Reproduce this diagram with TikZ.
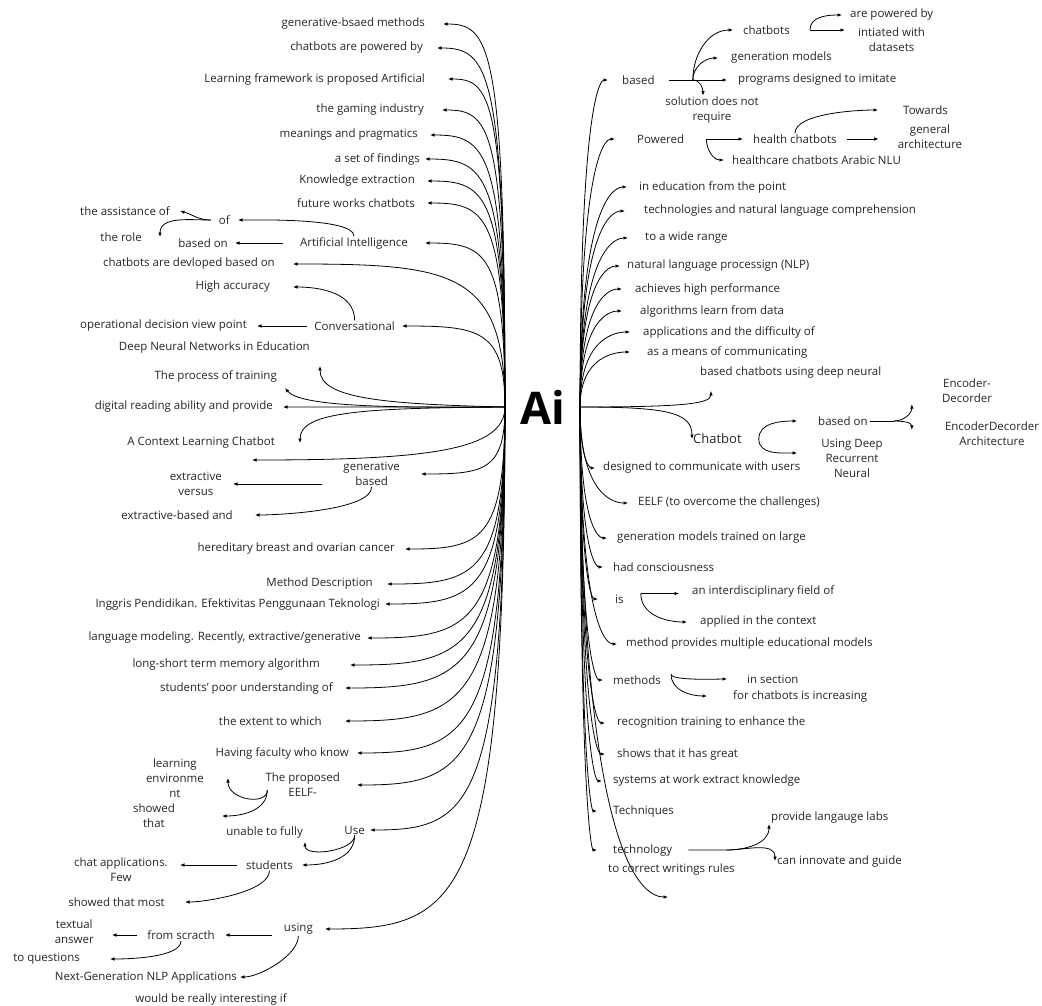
\documentclass[tikz,border=0pt]{standalone}
\usepackage{fontspec}
\setmainfont{Open Sans}
\usetikzlibrary{arrows.meta,calc}

\tikzset{
  leaf/.style={text=black!85,font=\fontsize{11.5}{15}\selectfont,align=center,inner xsep=2pt,inner ysep=1pt},
  link/.style={->,line width=0.8pt},
}

\begin{document}
\begin{tikzpicture}[x=1pt,y=-1pt,>={Latex[length=4.5pt,width=3.6pt]}]
\useasboundingbox[fill=white] (0,0) rectangle (1042,1005);

\node[inner xsep=15pt,font=\fontsize{45}{50}\selectfont\bfseries] (ai) at (542.5,407) {Ai};

% left side
\foreach \nm/\gp/\yy/\xt/\tx in {
  gbm/18/24/443/{generative-bsaed methods},
  cpb/14/48/437/{chatbots are powered by},
  lfp/23/79/448/{Learning framework is proposed Artificial},
  gam/18/110/442/{the gaming industry},
  mnp/12/135/430/{meanings and pragmatics},
  sof/5/159/425/{a set of findings},
  kne/12/181/427/{Knowledge extraction},
  fwc/12/203/427/{future works chatbots},
  ain/17/243/425/{Artificial Intelligence},
  cdb/18/264/293/{chatbots are devloped based on},
  con/7/326/402/{Conversational},
  drp/10/407/283/{digital reading ability and provide},
  gen/21/474/421/{generative\\based},
  hbc/10/549/405/{hereditary breast and ovarian cancer},
  mde/14/584/387/{Method Description},
  ipe/5/604/385/{Inggris Pendidikan. Efektivitas Penggunaan Teknologi},
  lmr/6/638/367/{language modeling. Recently, extractive/generative},
  lst/30/665/350/{long-short term memory algorithm},
  spu/12/688/345/{students' poor understanding of},
  ext/23/721/345/{the extent to which},
  hfw/8/753/357/{Having faculty who know},
  tpe/17/785/357/{The proposed\\EELF-},
  use/5/830/370/{Use},
  usg/12/929/325/{using}}{
  \node[leaf,anchor=east,inner xsep=\gp pt] (\nm) at (\xt,\yy) {\tx};
  \draw[link] (ai.west) .. controls (505,{\yy+0.05*(408-\yy)}) and ({\xt+0.75*(505-\xt)},\yy) .. (\nm.east);
}

\node[leaf,anchor=east] (dnn) at (312,348) {Deep Neural Networks in Education};
\draw[link] (ai.west) .. controls (380,404) and (320,398) .. ([shift={(8pt,-11pt)}]dnn.south east);
\node[leaf,anchor=east] (tpt) at (279,376) {The process of training};
\draw[link] (ai.west) .. controls (380,408) and (300,406) .. ([shift={(6pt,-5pt)}]tpt.south east);
\node[leaf,anchor=east,inner xsep=25pt] (clc) at (300,443) {A Context Learning Chatbot};
\draw[link] (ai.west) .. controls (360,408) and (300,412) .. (clc.east);
\coordinate (lfree) at (252,460);
\draw[link] (ai.west) .. controls (505,450) and (430,460) .. (lfree);

\node[leaf,anchor=east,inner xsep=7pt] (bon) at (235,243) {based on};
\draw[link] (ain.west) -- (bon.east);
\node[leaf,anchor=east,inner xsep=8pt] (ofn) at (238,220) {of};
\draw[link] (ain.north) to[out=90,in=0,looseness=0.4] (ofn.east);
\node[leaf,anchor=east,inner xsep=10pt] (tas) at (180,211) {the assistance of};
\draw[link] (ofn.west) to[out=180,in=-15] (tas.east);
\node[leaf,anchor=east,inner xsep=18pt] (tro) at (160,237) {the role};
\draw[link] (ofn.west) to[out=180,in=90] (tro.east);

\node[leaf,anchor=east,inner xsep=23pt] (hac) at (293,287) {High accuracy};
\draw[link] (con.north) to[out=90,in=0] (hac.east);
\node[leaf,anchor=east,inner xsep=10pt] (odv) at (257,326) {operational decision view point};
\draw[link] (con.west) -- (odv.east);

\node[leaf,anchor=east,inner xsep=11pt] (evs) at (233,484) {extractive\\versus};
\draw[link] (evs.east -| gen.west) -- (evs.east);
\node[leaf,anchor=east,inner xsep=22pt] (eba) at (255,515) {extractive-based and};
\draw[link] (gen.south) to[out=-90,in=0,looseness=0.5] (eba.east);

\coordinate (pfk) at ([shift={(19pt,-5pt)}]tpe.west);
\node[leaf,anchor=east,inner xsep=24pt] (len) at (228,778) {learning\\environme\\nt};
\draw[link] (pfk) .. controls +(0,16) and +(0,22) .. (len.east);
\node[leaf,anchor=east,inner xsep=47pt] (sht) at (222,816) {showed\\that};
\draw[link] (pfk) to[out=-90,in=0] (sht.east);

\node[leaf,anchor=east,inner ysep=4pt] (utf) at (305,832) {unable to fully};
\draw[link] (use.south) to[out=-90,in=-90,looseness=0.8] (utf.south east);
\node[leaf,anchor=east,inner xsep=9pt] (stu) at (302,865) {students};
\draw[link] (use.south) to[out=-90,in=0] (stu.east);
\node[leaf,anchor=east,inner xsep=12pt] (caf) at (180,870) {chat applications.\\Few};
\draw[link] (stu.west) -- (stu.west -| caf.east);
\node[leaf,anchor=east,inner xsep=20pt] (stm) at (185,902) {showed that most};
\draw[link] (stu.south) to[out=-90,in=0,looseness=0.6] (stm.east);

\node[leaf,anchor=east,inner xsep=10pt] (frs) at (225,935) {from scracth};
\draw[link] (frs.east -| usg.west) -- (frs.east);
\node[leaf,anchor=east,inner xsep=3pt] (ngn) at (240,977) {Next-Generation NLP Applications};
\draw[link] (usg.south) to[out=-90,in=0,looseness=0.7] (ngn.east);
\node[leaf,anchor=east,inner xsep=18pt] (tan) at (112,932) {textual\\answer};
\draw[link] (frs.west) -- (frs.west -| tan.east);
\node[leaf,anchor=east,inner xsep=30pt] (tqs) at (110,959) {to questions};
\draw[link] (frs.south) to[out=-90,in=0,looseness=0.6] (tqs.east);
\node[leaf] (wbi) at (211,999) {would be really interesting if};

% right side
\foreach \nm/\gp/\yy/\xt/\tx in {
  bas/14/80/608/{based},
  pow/22/139/615/{Powered},
  ied/12/187/627/{in education from the point},
  tnl/19/211/625/{technologies and natural language comprehension},
  twr/17/238/628/{to a wide range},
  nlp/7/266/620/{natural language processign (NLP)},
  ahp/13/289/622/{achieves high performance},
  alg/18/311/622/{algorithms learn from data},
  adf/13/332/630/{applications and the difficulty of},
  amc/17/352/630/{as a means of communicating},
  dcu/8/468/595/{designed to communicate with users},
  eel/10/503/628/{EELF (to overcome the challenges)},
  gmt/10/538/607/{generation models trained on large},
  hco/10/567/603/{had consciousness},
  isn/17/599/598/{is},
  mpm/9/644/617/{method provides multiple educational models},
  mth/10/680/603/{methods},
  rte/12/723/605/{recognition training to enhance the},
  stg/12/754/605/{shows that it has great},
  swe/11/781/602/{systems at work extract knowledge},
  tec/16/811/597/{Techniques},
  tgy/16/850/597/{technology}}{
  \node[leaf,anchor=west,inner xsep=\gp pt] (\nm) at (\xt,\yy) {\tx};
  \draw[link] (ai.east) .. controls (580,{\yy+0.05*(407-\yy)}) and ({580+0.75*(\xt-580)},\yy) .. (\nm.west);
}

\node[leaf,anchor=west] (bcd) at (698,373) {based chatbots using deep neural};
\draw[link] (ai.east) .. controls (680,407) and (711,404) .. ([shift={(13pt,-11pt)}]bcd.south west);
\node[leaf,anchor=west,inner xsep=1pt,font=\fontsize{13}{15}\selectfont] (chb) at (692,439) {Chatbot};
\draw[link] (ai.east) .. controls (665,407) and (692,412) .. (chb.west);

\node[leaf,anchor=west] (bon2) at (816,421) {based on};
\draw[link] ([xshift=16pt]chb.east) to[out=90,in=180] ([xshift=-19pt]bon2.west);
\node[leaf] (udr) at (852,458) {Using Deep\\Recurrent\\Neural};
\draw[link] ([xshift=16pt]chb.east) to[out=-90,in=180] ([shift={(-22pt,5pt)}]udr.west);
\node[leaf] (ed1) at (967,391) {Encoder-\\Decorder};
\node[leaf] (ed2) at (992,434) {EncoderDecorder\\Architecture};
\coordinate (efk) at ([xshift=24pt]bon2.east);
\draw[line width=0.8pt] (bon2.east) -- (efk);
\draw[link] (efk) to[out=0,in=-90] ([xshift=-28pt]ed1.south west);
\draw[link] (efk) to[out=0,in=90] ([shift={(-31pt,-9pt)}]ed2.north west);

\node[leaf,anchor=west,inner xsep=11pt] (pdi) at (727,80) {programs designed to imitate};
\draw[link] (bas.east) -- (pdi.west);
\coordinate (bfk) at ([xshift=24pt]bas.east);
\node[leaf,anchor=west,inner xsep=10pt] (cht) at (733,30) {chatbots};
\draw[link] (bfk) to[out=90,in=180] (cht.west);
\node[leaf,anchor=west,inner xsep=13pt] (gmo) at (718,58) {generation models};
\draw[link] (bfk) to[out=90,in=180] (gmo.west);
\node[leaf] (sdn) at (712,110) {solution does not\\require};
\draw[link] (bfk) to[out=0,in=90] ([xshift=-9pt]sdn.north);
\node[leaf,anchor=west,inner xsep=8pt] (apb) at (842,15) {are powered by};
\draw[link] ([xshift=10pt]cht.east) to[out=90,in=180] (apb.west);
\node[leaf,anchor=west,inner xsep=13pt] (iwd) at (845,40) {intiated with\\datasets};
\draw[link] ([xshift=10pt]cht.east) -- (cht.east -| iwd.west);

\node[leaf,anchor=west,inner xsep=10pt] (hch) at (743,139) {health chatbots};
\draw[link] (pow.east) -- (hch.west);
\node[leaf,anchor=west,inner xsep=8pt] (hcn) at (724,160) {healthcare chatbots Arabic NLU};
\draw[link] (pow.east) to[out=-90,in=180] (hcn.west);
\node[leaf,inner xsep=19pt] (gar) at (930,137) {general\\architecture};
\draw[link] (hch.east) -- (hch.east -| gar.west);
\node[leaf,anchor=west,inner xsep=25pt] (tow) at (878,110) {Towards};
\draw[link] (hch.north) to[out=90,in=180,looseness=0.6] (tow.west);

\node[leaf,anchor=west,inner xsep=13pt] (aif) at (679,591) {an interdisciplinary field of};
\draw[link] (isn.north east) -- (isn.north east -| aif.west);
\node[leaf,anchor=west,inner xsep=13pt] (apc) at (687,622) {applied in the context};
\draw[link] (isn.north east) to[out=-90,in=180] (apc.west);

\node[leaf,anchor=west,inner xsep=20pt] (ins) at (727,679) {in section};
\draw[link] (mth.north east) to[out=-90,in=180,looseness=0.3] (ins.west);
\node[leaf,anchor=west,inner xsep=26pt] (fci) at (707,696) {for chatbots is increasing};
\draw[link] (mth.north east) to[out=-90,in=180] (fci.west);

\coordinate (tfk) at ([xshift=38pt]tgy.east);
\node[leaf,anchor=south west] (pll) at (769,824) {provide langauge labs};
\draw[link] (tgy.east) -- (tfk) to[out=0,in=-90] (pll.south west);
\node[leaf,anchor=west] (cig) at (775,861) {can innovate and guide};
\draw[link] (tfk) to[out=0,in=90] (cig.west);

\node[leaf,anchor=west] (tcw) at (606,869) {to correct writings rules};
\coordinate (rfree) at (668,897);
\draw[link] (ai.east) .. controls (580,872) and (646,897) .. (rfree);
\end{tikzpicture}
\end{document}
